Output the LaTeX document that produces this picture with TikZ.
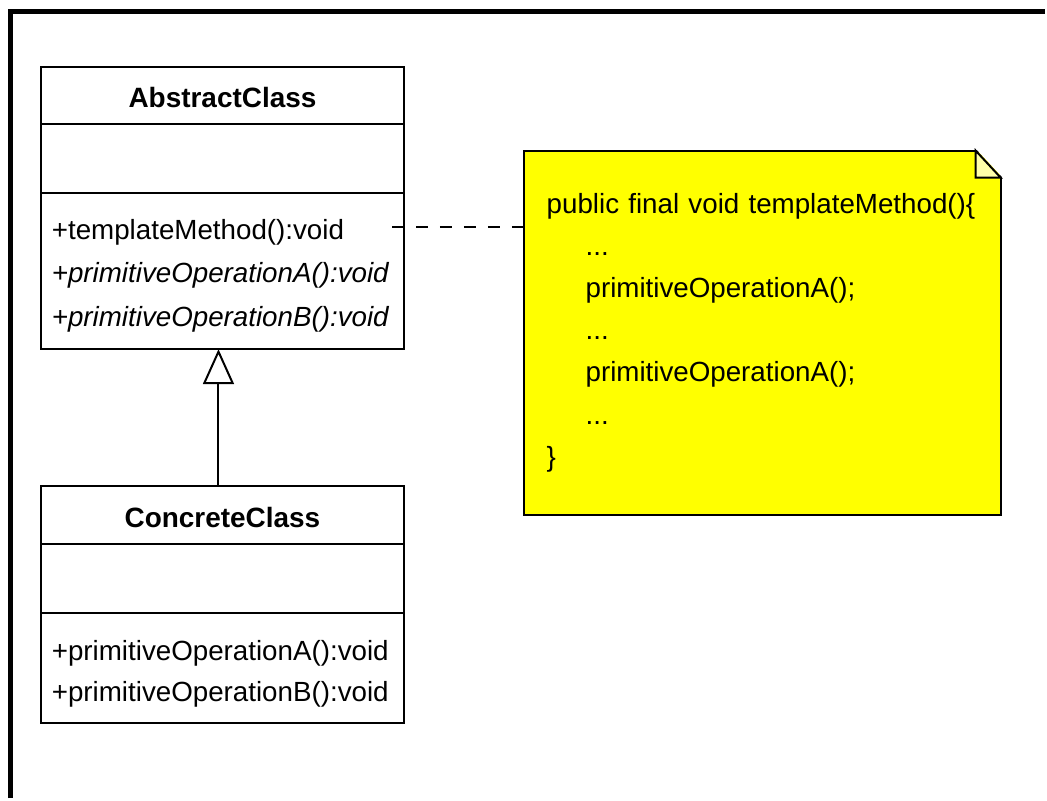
\documentclass[tikz,border=0pt]{standalone}
\usepackage{fontspec}
\setmainfont{Liberation Sans}
\usetikzlibrary{arrows.meta,positioning,calc}
\definecolor{nyellow}{HTML}{FFFF00}
\definecolor{nfold}{HTML}{FFFFA8}

\begin{document}
\begin{tikzpicture}[x=1pt, y=-1pt,
    clsname/.style={rectangle, draw=black, line width=2pt, outer sep=0pt, inner sep=0pt, minimum width=364pt, minimum height=57pt, text height=25pt, text depth=0pt, font=\fontsize{28}{32}\selectfont\bfseries},
    clsattr/.style={rectangle, draw=black, line width=2pt, outer sep=0pt, inner sep=0pt, minimum width=364pt, minimum height=69pt},
    clsops/.style={rectangle, draw=black, line width=2pt, outer sep=0pt, inner xsep=11pt, inner ysep=2pt, minimum width=364pt, text width=342pt, align=left, font=\fontsize{27.8}{44}\selectfont},
    notebox/.style={rectangle, draw=black, line width=2pt, fill=nyellow, outer sep=0pt, inner xsep=23pt, minimum width=478pt, minimum height=365pt, text width=432pt, align=left, font=\fontsize{27.8}{42.2}\selectfont},
    inherit/.style={-{Triangle[open, length=35pt, width=31pt]}, line width=2pt},
    notelink/.style={line width=2pt, dash pattern=on 12pt off 12pt}
]
    % Frame
    \draw[line width=5pt] (10.5,800) -- (10.5,12) -- (1047,12);

    % Abstract class
    \node[clsname] (abstractname) at (223,95.5) {AbstractClass};
    \node[clsattr, below=0pt of abstractname] (abstractattr) {};
    \node[clsops, below=0pt of abstractattr, minimum height=157pt] (abstractops)
        {\rule{0pt}{30pt}+templateMethod():void\\ \textit{+primitiveOperationA():void}\\ \textit{+primitiveOperationB():void}};

    % Concrete class
    \node[clsname, minimum height=58pt] (concretename) at (223,516) {ConcreteClass};
    \node[clsattr, below=0pt of concretename] (concreteattr) {};
    \node[clsops, below=0pt of concreteattr, minimum height=111pt, font=\fontsize{27.8}{42}\selectfont] (concreteops)
        {\rule{0pt}{32pt}+primitiveOperationA():void\\ +primitiveOperationB():void};

    % Note
    \node[notebox] (note) at (764,333.5)
        {public final void templateMethod()\{\\
         \hspace*{39pt}...\\
         \hspace*{39pt}primitiveOperationA();\\
         \hspace*{39pt}...\\
         \hspace*{39pt}primitiveOperationA();\\
         \hspace*{39pt}...\\
         \}};
    \fill[white] ([xshift=-25pt, yshift=2pt]note.north east) -- ([xshift=2pt, yshift=2pt]note.north east)
        -- ([xshift=2pt, yshift=-27pt]note.north east) -- cycle;
    \draw[line width=2pt, fill=nfold, line join=miter] ([xshift=-25pt]note.north east) -- ([yshift=-27pt]note.north east)
        -- ([xshift=-25pt, yshift=-27pt]note.north east) -- cycle;

    % Links
    \draw[inherit] ([xshift=-4pt]concretename.north) -- ([xshift=-4pt]abstractops.south);
    \coordinate (linkstart) at (393,228);
    \draw[notelink] (linkstart) -- (linkstart -| note.west);

    \useasboundingbox (0,0) rectangle (1047,800);
\end{tikzpicture}
\end{document}
